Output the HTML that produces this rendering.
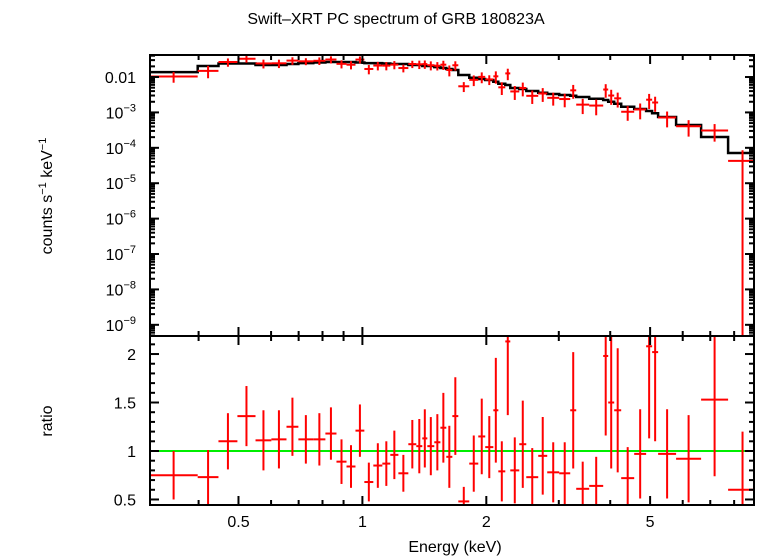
<!DOCTYPE html>
<html><head><meta charset="utf-8">
<style>
html,body{margin:0;padding:0;background:#fff;}
svg{display:block;font-family:"Liberation Sans",Arial,sans-serif;}
</style></head>
<body>
<svg id="chart" width="758" height="556" viewBox="0 0 758 556" xmlns="http://www.w3.org/2000/svg">
<rect x="0" y="0" width="758" height="556" fill="#fff"/>
<text x="396" y="24" font-size="16" text-anchor="middle">Swift–XRT PC spectrum of GRB 180823A</text>
<text transform="translate(52,196) rotate(-90)" font-size="16" text-anchor="middle">counts s<tspan font-size="11" dy="-6">−1</tspan><tspan dy="6"> keV</tspan><tspan font-size="11" dy="-6">−1</tspan></text>
<text transform="translate(52,421) rotate(-90)" font-size="16" text-anchor="middle">ratio</text>
<text x="455" y="552" font-size="16" text-anchor="middle">Energy (keV)</text>
<g id="topPanel"></g>
<g id="botPanel"></g>
</svg>
<script>
// Bin edges (keV)
const binEdges = [0.304,0.398,0.447,0.497,0.550,0.601,0.654,0.699,0.760,0.813,0.865,0.915,0.962,1.011,1.063,1.118,1.169,1.223,1.293,1.352,1.398,1.438,1.495,1.547,1.599,1.654,1.710,1.818,1.912,1.988,2.080,2.139,2.224,2.287,2.405,2.501,2.674,2.812,3.007,3.198,3.307,3.556,3.846,3.955,4.090,4.253,4.574,4.890,5.057,5.229,5.782,6.650,7.734,9.09];
// Model (counts s^-1 keV^-1)
const modelValues = [0.0138,0.0205,0.0241,0.0241,0.0218,0.0218,0.0233,0.0248,0.0257,0.0265,0.0265,0.0265,0.0257,0.0248,0.0248,0.0241,0.0233,0.0233,0.0218,0.0218,0.0205,0.0205,0.0191,0.0180,0.0168,0.0158,0.0114,0.00955,0.00878,0.00823,0.00737,0.00647,0.00594,0.00489,0.00458,0.00403,0.00360,0.00331,0.00310,0.00296,0.00272,0.00244,0.00224,0.00200,0.00176,0.00145,0.00125,0.00110,0.000944,0.000741,0.000441,0.000202,0.0000713];
// Data/model ratio
const ratioValues = [0.75,0.73,1.10,1.36,1.11,1.12,1.25,1.12,1.12,1.18,0.89,0.84,1.21,0.68,0.85,0.87,0.96,0.77,1.07,1.05,1.13,1.05,1.09,1.24,0.94,1.36,0.48,0.87,1.15,1.04,1.42,0.79,2.13,0.80,1.07,0.73,0.95,0.78,0.77,1.42,0.61,0.64,1.98,1.50,1.42,0.72,0.97,2.08,2.02,0.97,0.92,1.53,0.60];
const ratioErrors = [0.25,0.28,0.29,0.31,0.31,0.30,0.30,0.25,0.27,0.27,0.23,0.22,0.27,0.20,0.23,0.23,0.25,0.19,0.25,0.28,0.30,0.30,0.29,0.36,0.32,0.40,0.15,0.29,0.39,0.32,0.54,0.31,0.76,0.34,0.45,0.30,0.40,0.31,0.32,0.60,0.28,0.30,0.82,0.68,0.64,0.32,0.46,0.95,0.92,0.46,0.45,0.79,0.60];
const xMajorTicks = [0.5,1,2,5];
const xMajorLabels = ["0.5","1","2","5"];
const xMinorTicks = [0.4,0.6,0.7,0.8,0.9,3,4,6,7,8];
const yTopDecades = [-9,-8,-7,-6,-5,-4,-3,-2];
const yRatioMajor = [0.5,1,1.5,2];
const yRatioLabels = ["0.5","1","1.5","2"];

const NS="http://www.w3.org/2000/svg";
const svgEl=document.getElementById('chart');
const L=150,R=754,T=55,M=336,B=505;
const xMinLog=Math.log10(0.3048), xMaxLog=Math.log10(8.94);
function xs(e){return L+(Math.log10(e)-xMinLog)/(xMaxLog-xMinLog)*(R-L);}
const yTopMax=-1.378, yTopMin=-9.316;
function yt(v){const lv=Math.log10(Math.max(v,1e-12));return T+(yTopMax-lv)/(yTopMax-yTopMin)*(M-T);}
const rMax=2.186,rMin=0.443;
function yr(v){return M+(rMax-v)/(rMax-rMin)*(B-M);}
function mk(tag,attrs,parent){const e=document.createElementNS(NS,tag);for(const k in attrs)e.setAttribute(k,attrs[k]);parent.appendChild(e);return e;}
const topG=document.getElementById('topPanel'), botG=document.getElementById('botPanel');

const defs=mk('defs',{},svgEl);
const c1=mk('clipPath',{id:'ct'},defs);mk('rect',{x:L,y:T,width:R-L,height:M-T},c1);
const c2=mk('clipPath',{id:'cb'},defs);mk('rect',{x:L,y:M,width:R-L,height:B-M},c2);
const gTop=mk('g',{'clip-path':'url(#ct)'},topG);
const gBot=mk('g',{'clip-path':'url(#cb)'},botG);

let d='';
for(let i=0;i<modelValues.length;i++){
  const x0=xs(binEdges[i]),x1=Math.min(xs(binEdges[i+1]),R),y=yt(modelValues[i]);
  d+=(i===0?'M':'L')+x0.toFixed(1)+','+y.toFixed(1)+'L'+x1.toFixed(1)+','+y.toFixed(1);
}
const model=mk('path',{d:d,fill:'none',stroke:'#000','stroke-width':2.5},gTop);



const unity=mk('line',{x1:L,x2:R,y1:yr(1),y2:yr(1),stroke:'#00ee00','stroke-width':2},gBot);



for(let i=0;i<ratioValues.length;i++){
  const x0=xs(binEdges[i]),x1=xs(binEdges[i+1]),xc=xs(Math.sqrt(binEdges[i]*binEdges[i+1]));
  const m=modelValues[i],r=ratioValues[i],e=ratioErrors[i];
  const g1=mk('g',{stroke:'#ff0000','stroke-width':2},gTop);
  
  
  const lo=r-e;
  mk('line',{x1:x0,x2:x1,y1:yt(m*r),y2:yt(m*r)},g1);
  mk('line',{x1:xc,x2:xc,y1:yt(m*(r+e)),y2:lo<=0.01?M+5:yt(m*lo)},g1);
  const g2=mk('g',{stroke:'#ff0000','stroke-width':2},gBot);
  
  
  mk('line',{x1:x0,x2:x1,y1:yr(r),y2:yr(r)},g2);
  mk('line',{x1:xc,x2:xc,y1:yr(r+e),y2:yr(r-e)},g2);
}

const f1=mk('rect',{x:L,y:T,width:R-L,height:M-T,fill:'none',stroke:'#000','stroke-width':2},topG);


const f2=mk('rect',{x:L,y:M,width:R-L,height:B-M,fill:'none',stroke:'#000','stroke-width':2},botG);



const tk=mk('g',{stroke:'#000','stroke-width':2},svgEl);


function xtick(e,len){
  const x=xs(e);
  mk('line',{x1:x,x2:x,y1:T,y2:T+len},tk);
  mk('line',{x1:x,x2:x,y1:M,y2:M-len},tk);
  mk('line',{x1:x,x2:x,y1:M,y2:M+len},tk);
  mk('line',{x1:x,x2:x,y1:B,y2:B-len},tk);
}
xMinorTicks.forEach(e=>xtick(e,5));
xMajorTicks.forEach((e,i)=>{xtick(e,9);
  const t=mk('text',{x:xs(e),y:527,'font-size':16,'text-anchor':'middle'},svgEl);
  t.textContent=xMajorLabels[i];
  
  
});
const yk=mk('g',{stroke:'#000','stroke-width':2},svgEl);


for(let dcd=-10;dcd<=-1;dcd++){
  for(let k=1;k<10;k++){
    const v=k*Math.pow(10,dcd);const y=yt(v);
    if(y<T||y>M)continue;
    const len=k===1?9:5;
    mk('line',{x1:L,x2:L+len,y1:y,y2:y},yk);
    mk('line',{x1:R,x2:R-len,y1:y,y2:y},yk);
  }
}
yTopDecades.forEach(p=>{
  const t=mk('text',{x:136,y:yt(Math.pow(10,p))+6,'font-size':16,'text-anchor':'end'},svgEl);
  
  
  if(p===-2){t.textContent='0.01';}
  else{t.appendChild(document.createTextNode('10'));const s=mk('tspan',{'font-size':11,dy:-7},t);s.textContent='−'+(-p);}
});
for(let j=0;j<=16;j++){
  const v=0.5+j*0.1;
  const y=yr(v);const major=(j%5===0);const len=major?9:5;
  mk('line',{x1:L,x2:L+len,y1:y,y2:y},yk);
  mk('line',{x1:R,x2:R-len,y1:y,y2:y},yk);
}
yRatioMajor.forEach((v,i)=>{
  const t=mk('text',{x:136,y:yr(v)+6,'font-size':16,'text-anchor':'end'},svgEl);
  t.textContent=yRatioLabels[i];
  
  
});
</script>
</body></html>
